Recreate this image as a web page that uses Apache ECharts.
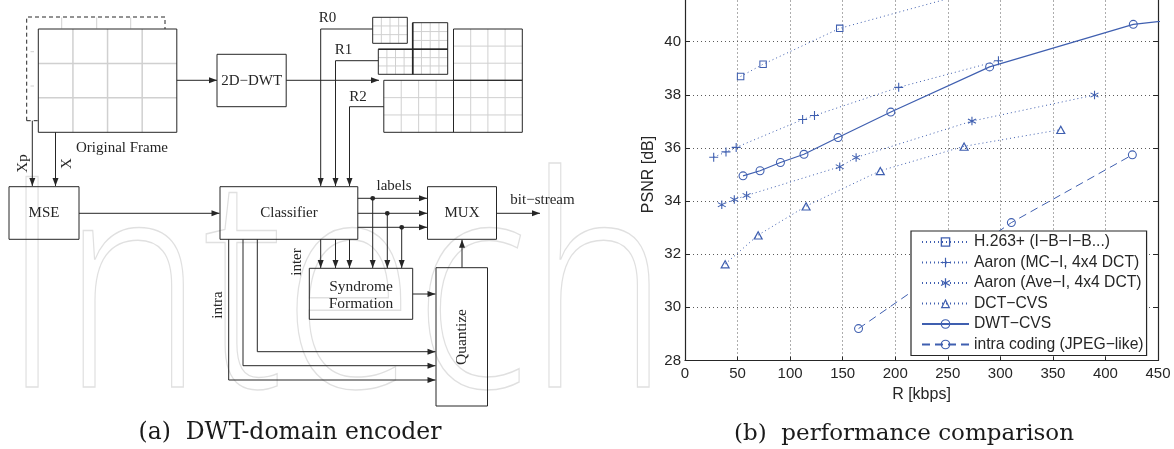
<!DOCTYPE html>
<html><head><meta charset="utf-8">
<script src="https://cdn.jsdelivr.net/npm/echarts@6/dist/echarts.min.js"></script>
<style>html,body{margin:0;padding:0;background:#fff}#c{width:1174px;height:449px}</style>
</head><body><div id="c"></div>
<script>
// ---------- chart data ----------
const seriesNames = ['H.263+ (I\u2212B\u2212I\u2212B...)', 'Aaron (MC\u2212I, 4x4 DCT)', 'Aaron (Ave\u2212I, 4x4 DCT)', 'DCT\u2212CVS', 'DWT\u2212CVS', 'intra coding (JPEG\u2212like)'];
const h263X  = [52.9, 74.3, 147.2, 290];
const h263Y  = [38.69, 39.15, 40.50, 42.05];
const mcX    = [27.3, 39.0, 48.7, 111.9, 123.2, 203.3, 298.2];
const mcY    = [35.65, 35.85, 36.02, 37.07, 37.22, 38.28, 39.28];
const aveX   = [35.0, 46.9, 58.6, 147.2, 162.8, 273.0, 389.6];
const aveY   = [33.86, 34.06, 34.21, 35.29, 35.64, 37.01, 37.99];
const dctX   = [38.2, 69.6, 115.2, 185.8, 265.5, 357.5];
const dctY   = [31.63, 32.72, 33.81, 35.14, 36.06, 36.69];
const dwtX   = [55.2, 71.4, 90.8, 113.2, 145.6, 195.8, 289.8, 426.5, 480];
const dwtY   = [34.95, 35.14, 35.45, 35.76, 36.39, 37.35, 39.05, 40.65, 40.88];
const intraX = [165.1, 310.5, 425.6];
const intraY = [29.20, 33.19, 35.74];
const xTicks = [0, 50, 100, 150, 200, 250, 300, 350, 400, 450];
const yTicks = [28, 30, 32, 34, 36, 38, 40, 42];

// ---------- styling ----------
const BLUE = '#3f5fb0';
const INK = '#262626';
const LIGHT = '#d0d0d0';
const SANS = '"Liberation Sans", Arial, sans-serif';
const SERIF = '"Liberation Serif", "Times New Roman", serif';

// outline-style marker paths (filled rings so the line shows through)
const SYM = {
  square: 'path://M0,0 L10,0 L10,10 L0,10 Z M1.4,1.4 L1.4,8.6 L8.6,8.6 L8.6,1.4 Z',
  plus: 'path://M4.4,0 L5.6,0 L5.6,4.4 L10,4.4 L10,5.6 L5.6,5.6 L5.6,10 L4.4,10 L4.4,5.6 L0,5.6 L0,4.4 L4.4,4.4 Z',
  star: 'path://M4.4,0 L5.6,0 L5.6,10 L4.4,10 Z M0.37,6.98 L9.03,1.98 L9.63,3.02 L0.97,8.02 Z M0.97,1.98 L9.63,6.98 L9.03,8.02 L0.37,3.02 Z',
  triangle: 'path://M5,0 L10,9 L0,9 Z M5,2.47 L2.04,7.8 L7.96,7.8 Z',
  circle: 'path://M10,5 A5,5 0 1,0 0,5 A5,5 0 1,0 10,5 Z M8.8,5 A3.8,3.8 0 1,1 1.2,5 A3.8,3.8 0 1,1 8.8,5 Z'
};

function mk(name, xs, ys, symbol, size, type, width) {
  return {
    name, type: 'line', data: xs.map((x, i) => [x, ys[i]]),
    symbol, symbolSize: size, showAllSymbol: true, clip: true,
    lineStyle: { color: BLUE, width, type },
    itemStyle: { color: BLUE },
    emphasis: { disabled: true }, z: 3
  };
}

// ---------- block diagram (left half) ----------
const g = [];
function pl(pts, o) { o = o || {};
  g.push({ type: 'polyline', silent: true, z: o.z || 10, shape: { points: pts },
    style: { stroke: o.color || INK, lineWidth: o.w || 1, fill: 'none', lineDash: o.dash || null } }); }
function head(x, y, dir) { const L = 8, W = 3; let p;
  if (dir === 'r') p = [[x, y], [x - L, y - W], [x - L, y + W]];
  else if (dir === 'l') p = [[x, y], [x + L, y - W], [x + L, y + W]];
  else if (dir === 'd') p = [[x, y], [x - W, y - L], [x + W, y - L]];
  else p = [[x, y], [x - W, y + L], [x + W, y + L]];
  g.push({ type: 'polygon', silent: true, z: 11, shape: { points: p }, style: { fill: INK } }); }
function arrow(pts) { pl(pts); const a = pts[pts.length - 2], b = pts[pts.length - 1];
  const dir = a[0] === b[0] ? (b[1] > a[1] ? 'd' : 'u') : (b[0] > a[0] ? 'r' : 'l'); head(b[0], b[1], dir); }
function box(x1, y1, x2, y2, w) {
  g.push({ type: 'rect', silent: true, z: 12, shape: { x: x1, y: y1, width: x2 - x1, height: y2 - y1 },
    style: { stroke: INK, lineWidth: w || 1, fill: 'none' } }); }
function cells(x1, y1, x2, y2, nx, ny, w) {
  for (let i = 1; i < nx; i++) { const x = x1 + (x2 - x1) * i / nx; pl([[x, y1], [x, y2]], { color: LIGHT, w: w || 1, z: 9 }); }
  for (let j = 1; j < ny; j++) { const y = y1 + (y2 - y1) * j / ny; pl([[x1, y], [x2, y]], { color: LIGHT, w: w || 1, z: 9 }); }
  box(x1, y1, x2, y2); }
function txt(x, y, s, size, rot, fam) {
  g.push({ type: 'text', silent: true, z: 13, x, y, rotation: rot || 0,
    style: { text: s, fill: INK, fontFamily: fam || SERIF, fontSize: size || 15, align: 'center', verticalAlign: 'middle' } }); }

// watermark
g.push({ type: 'text', silent: true, z: 1, x: 2, y: 303, scaleX: 0.81,
  style: { text: 'Intech', fontFamily: '"Open Sans", sans-serif', fontWeight: 300, fontSize: 295,
    fill: 'none', stroke: '#e0e0e0', lineWidth: 1.5, align: 'left', verticalAlign: 'middle' } });

// original frame (dashed previous frame behind)
pl([[26.7, 120.7], [26.7, 17], [165, 17], [165, 29]], { dash: [4, 3] });
pl([[26.7, 120.7], [38.3, 120.7]], { dash: [4, 3] });
[61.7, 96.7, 130.7].forEach(x => pl([[x, 17.5], [x, 28.5]], { color: LIGHT }));
[51.7, 86].forEach(y => pl([[30.5, y], [34, y]], { color: LIGHT }));
cells(38.3, 29, 176.8, 132.3, 4, 3, 1.5);
txt(122, 147.7, 'Original Frame', 15);
arrow([[32.3, 120.7], [32.3, 186]]);
arrow([[55.5, 132.3], [55.5, 186]]);
txt(23, 163.5, 'Xp', 15, Math.PI / 2);
txt(67, 163.5, 'X', 15, Math.PI / 2);

// 2D-DWT
arrow([[176.8, 80.3], [217, 80.3]]);
box(217, 54.3, 286.2, 106.7);
txt(251.6, 80.8, '2D\u2212DWT', 15);
arrow([[286.2, 80.3], [379, 80.3]]);

// wavelet pyramid
cells(372.7, 17.3, 407.3, 43.3, 4, 3);
cells(412.7, 22.7, 447.7, 49.3, 4, 3);
cells(378.3, 49.3, 412.7, 74.3, 4, 3);
cells(412.7, 49.3, 447.7, 74.3, 4, 3);
cells(453.5, 29, 522.3, 80.3, 4, 3);
cells(383.8, 80.3, 453.5, 132.3, 4, 3);
cells(453.5, 80.3, 522.3, 132.3, 4, 3);
pl([[412.7, 22.7], [412.7, 74.3]], { w: 1.6, z: 12 });
pl([[378.3, 49.3], [447.7, 49.3]], { w: 1.6, z: 12 });

// R0 / R1 / R2
arrow([[372.7, 29], [320.7, 29], [320.7, 186]]);
arrow([[378.3, 60.7], [335.5, 60.7], [335.5, 186]]);
arrow([[383.8, 106.7], [349.5, 106.7], [349.5, 186]]);
txt(327.5, 18.5, 'R0', 15);
txt(343.5, 50.5, 'R1', 15);
txt(358, 97, 'R2', 15);

// MSE, classifier, MUX
box(9, 186.7, 79, 239.3);
txt(44, 213.5, 'MSE', 15);
arrow([[79, 213.3], [219.5, 213.3]]);
box(220, 186.7, 357.8, 239.3);
txt(289, 213.5, 'Classifier', 15);
box(427.5, 186.7, 496.5, 239.3);
txt(462, 213.5, 'MUX', 15);
arrow([[357.8, 198.3], [427, 198.3]]);
arrow([[357.8, 213.3], [427, 213.3]]);
arrow([[357.8, 227.3], [427, 227.3]]);
txt(394, 186, 'labels', 15);
arrow([[496.5, 213.3], [540, 213.3]]);
txt(542.5, 200, 'bit\u2212stream', 15);
[[372.7, 198.3], [387.3, 213.3], [401.7, 227.3]].forEach(p => {
  g.push({ type: 'circle', silent: true, z: 12, shape: { cx: p[0], cy: p[1], r: 2.4 }, style: { fill: INK } });
  arrow([p, [p[0], 268]]);
});
[320.7, 335.5, 349.5].forEach(x => arrow([[x, 239.3], [x, 268]]));
txt(297.5, 262, 'inter', 15, Math.PI / 2);

// syndrome formation & quantize
box(309.3, 268.3, 412.7, 319.3);
txt(361, 287, 'Syndrome', 15.5);
txt(361, 303.5, 'Formation', 15.5);
arrow([[412.7, 294], [435.5, 294]]);
box(436, 267.7, 487.5, 406);
txt(462, 337, 'Quantize', 15.5, Math.PI / 2);
arrow([[462, 267.7], [462, 239.8]]);

// intra paths
arrow([[228.7, 239.3], [228.7, 380], [435.5, 380]]);
arrow([[243, 239.3], [243, 365.7], [435.5, 365.7]]);
arrow([[257.3, 239.3], [257.3, 351.7], [435.5, 351.7]]);
txt(218.5, 305, 'intra', 15, Math.PI / 2);

// captions
g.push({ type: 'text', silent: true, z: 13, x: 290, y: 433,
  style: { text: '(a)  DWT-domain encoder', fill: '#1a1a1a', fontFamily: '"DejaVu Serif", serif', fontSize: 23.5, align: 'center', verticalAlign: 'middle' } });
g.push({ type: 'text', silent: true, z: 13, x: 904, y: 434,
  style: { text: '(b)  performance comparison', fill: '#1a1a1a', fontFamily: '"DejaVu Serif", serif', fontSize: 23, align: 'center', verticalAlign: 'middle' } });

// ---------- chart ----------
const axisFont = { fontFamily: SANS, fontSize: 15, color: INK };
const option = {
  animation: false,
  backgroundColor: '#fff',
  graphic: { elements: g },
  grid: { left: 685, right: 16, top: -11.5, bottom: 88.5, containLabel: false, outerBoundsMode: 'none' },
  xAxis: [{
    type: 'value', min: xTicks[0], max: xTicks[xTicks.length - 1], interval: xTicks[1] - xTicks[0],
    name: 'R [kbps]', nameLocation: 'middle', nameGap: 26,
    nameTextStyle: { fontFamily: SANS, fontSize: 16, color: INK },
    axisLine: { show: true, onZero: false, lineStyle: { color: INK, width: 1.2 } },
    axisTick: { show: true, inside: true, length: 4, lineStyle: { color: INK } },
    axisLabel: Object.assign({ margin: 6, showMinLabel: true, showMaxLabel: true }, axisFont),
    splitLine: { show: true, lineStyle: { color: '#5a5a5a', width: 1, type: [1, 3] } }
  }],
  yAxis: [{
    type: 'value', min: yTicks[0], max: yTicks[yTicks.length - 1], interval: yTicks[1] - yTicks[0],
    name: 'PSNR [dB]', nameLocation: 'middle', nameGap: 28, nameRotate: 90,
    nameTextStyle: { fontFamily: SANS, fontSize: 16, color: INK },
    axisLine: { show: true, onZero: false, lineStyle: { color: INK, width: 1.2 } },
    axisTick: { show: true, inside: true, length: 5, lineStyle: { color: INK } },
    axisLabel: Object.assign({ margin: 4 }, axisFont),
    splitLine: { show: true, lineStyle: { color: '#5a5a5a', width: 1, type: [1, 3] } }
  }, {
    type: 'value', position: 'right', min: yTicks[0], max: yTicks[yTicks.length - 1], interval: yTicks[1] - yTicks[0],
    axisLine: { show: true, onZero: false, lineStyle: { color: INK, width: 1.2 } },
    axisTick: { show: true, inside: true, length: 5, lineStyle: { color: INK } },
    axisLabel: { show: false }, splitLine: { show: false }
  }],
  legend: {
    orient: 'vertical', left: 911, top: 231, padding: [3, 3, 3, 10],
    itemWidth: 47, itemHeight: 12, itemGap: 4.5,
    backgroundColor: '#fff', borderColor: INK, borderWidth: 1.2,
    textStyle: { fontFamily: SANS, fontSize: 15.7, lineHeight: 15.6, color: INK },
    selectedMode: false, data: seriesNames, z: 20
  },
  series: [
    mk(seriesNames[0], h263X, h263Y, SYM.square, 7.5, [1, 3], 1),
    mk(seriesNames[1], mcX, mcY, SYM.plus, 9, [1, 3], 1),
    mk(seriesNames[2], aveX, aveY, SYM.star, 8.5, [1, 3], 1),
    mk(seriesNames[3], dctX, dctY, SYM.triangle, [10, 9], [1, 3], 1),
    mk(seriesNames[4], dwtX, dwtY, SYM.circle, 9, 'solid', 1.2),
    mk(seriesNames[5], intraX, intraY, SYM.circle, 9, [8, 5], 1)
  ]
};
const chart = echarts.init(document.getElementById('c'), null, { renderer: 'canvas' });
chart.setOption(option);
</script></body></html>
